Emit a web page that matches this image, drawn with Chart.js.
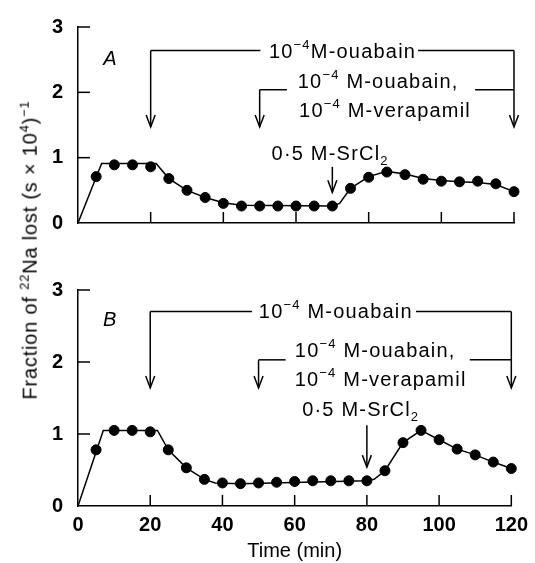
<!doctype html>
<html>

<head>
    <title>22Na efflux</title>
    <script src="https://cdn.jsdelivr.net/npm/chart.js@4.4.1/dist/chart.umd.min.js"></script>
    <style>
    body { margin: 0; background: #fff; }
    #wrap { position: relative; width: 535px; height: 563px; }
    canvas { position: absolute; left: 0; }
    #ytitle {
        position: absolute; left: 29px; top: 250px;
        transform: translate(-50%, -50%) rotate(-90deg);
        white-space: nowrap;
        font: 20px "Liberation Sans", Arial, sans-serif;
        letter-spacing: 0.8px;
        color: #000;
    }
    #ytitle sup { font-size: 13px; }
    </style>
</head>

<body>
    <div id="wrap">
        <canvas id="chartA" width="535" height="250" style="top:0"></canvas>
        <canvas id="chartB" width="535" height="313" style="top:250px"></canvas>
        <div id="ytitle">Fraction of <sup>22</sup>Na lost (s × 10<sup>4</sup>)<sup>−1</sup></div>
    </div>

    <script>
    // sample times (min) and measured points
    var sampleTimes = [5, 10, 15, 20, 25, 30, 35, 40, 45, 50, 55, 60, 65, 70, 75, 80, 85, 90, 95, 100, 105, 110, 115, 120];
    var panelAValues = [0.71, 0.89, 0.89, 0.86, 0.68, 0.50, 0.39, 0.30, 0.26, 0.26, 0.26, 0.26, 0.26, 0.26, 0.53, 0.70, 0.78, 0.74, 0.67, 0.64, 0.63, 0.64, 0.60, 0.48];
    var panelBValues = [0.78, 1.05, 1.05, 1.03, 0.78, 0.53, 0.37, 0.32, 0.31, 0.32, 0.33, 0.34, 0.35, 0.35, 0.35, 0.35, 0.49, 0.88, 1.05, 0.92, 0.79, 0.71, 0.61, 0.52];

    // drawn curves
    var curveATimes = [0, 6.5, 21.5, 25, 30, 35, 40, 45, 70, 72, 75, 80, 85, 90, 95, 100, 105, 110, 115, 120];
    var curveAValues = [0, 0.91, 0.91, 0.68, 0.50, 0.39, 0.31, 0.27, 0.26, 0.30, 0.53, 0.71, 0.79, 0.75, 0.68, 0.65, 0.63, 0.62, 0.59, 0.48];
    var curveBTimes = [0, 7, 22, 25, 30, 35, 38, 45, 80, 82, 85, 90, 95, 100, 105, 110, 115, 120];
    var curveBValues = [0, 1.05, 1.05, 0.78, 0.53, 0.37, 0.32, 0.31, 0.35, 0.37, 0.49, 0.88, 1.05, 0.92, 0.79, 0.71, 0.61, 0.52];

    var xTickValues = [0, 20, 40, 60, 80, 100, 120];
    var yTickValues = [0, 1, 2, 3];

    var FONT = '"Liberation Sans", Arial, sans-serif';
    Chart.defaults.font.family = FONT;
    Chart.defaults.color = '#000';

    // annotation layout, in axis units
    var notesA = {
        label: 'A', labelAt: [8.8, 2.51],
        bracket1: { y: 2.64, gap: [50.2, 93.6], tip: 1.47 },
        bracket2: { y: 2.04, gap: [57.5, 109.3], tip: 1.47 },
        srArrow: { t: 70, from: 0.86, to: 0.47 },
        texts: [
            { parts: [['10'], ['−4', 'sup'], ['M-ouabain']], at: [72.8, 2.63] },
            { parts: [['10'], ['−4', 'sup'], [' M-ouabain,']], at: [82.6, 2.18] },
            { parts: [['10'], ['−4', 'sup'], [' M-verapamil']], at: [84.5, 1.73] },
            { parts: [['0·5 M-SrCl'], ['2', 'sub']], at: [69.4, 1.07] }
        ]
    };
    var notesB = {
        label: 'B', labelAt: [8.8, 2.58],
        bracket1: { y: 2.70, gap: [48.2, 93.6], tip: 1.64 },
        bracket2: { y: 2.03, gap: [57.5, 108.5], tip: 1.64 },
        srArrow: { t: 80, from: 1.12, to: 0.54 },
        texts: [
            { parts: [['10'], ['−4', 'sup'], [' M-ouabain']], at: [71.4, 2.71] },
            { parts: [['10'], ['−4', 'sup'], [' M-ouabain,']], at: [82.3, 2.17] },
            { parts: [['10'], ['−4', 'sup'], [' M-verapamil']], at: [83.8, 1.76] },
            { parts: [['0·5 M-SrCl'], ['2', 'sub']], at: [78.3, 1.35] }
        ]
    };

    function toXY(xs, ys) {
        return xs.map(function(x, i) { return { x: x, y: ys[i] }; });
    }

    function partFont(p) {
        return (p[1] ? '13px ' : '20px ') + FONT;
    }

    function drawRich(ctx, parts, cx, cy) {
        ctx.letterSpacing = '1.2px';
        var w = 0;
        parts.forEach(function(p) { ctx.font = partFont(p); w += ctx.measureText(p[0]).width; });
        var x = cx - w / 2, base = cy + 7;
        ctx.textAlign = 'left';
        ctx.textBaseline = 'alphabetic';
        parts.forEach(function(p) {
            ctx.font = partFont(p);
            var dy = p[1] === 'sup' ? -9 : (p[1] === 'sub' ? 5 : 0);
            ctx.fillText(p[0], x, base + dy);
            x += ctx.measureText(p[0]).width;
        });
        ctx.letterSpacing = '0px';
    }

    function line(ctx, x1, y1, x2, y2) {
        ctx.beginPath(); ctx.moveTo(x1, y1); ctx.lineTo(x2, y2); ctx.stroke();
    }

    function arrowDown(ctx, x, y1, y2) {
        line(ctx, x, y1, x, y2);
        ctx.beginPath();
        ctx.moveTo(x - 4.5, y2 - 12); ctx.lineTo(x, y2); ctx.lineTo(x + 4.5, y2 - 12);
        ctx.stroke();
    }

    var notesPlugin = {
        id: 'notes',
        afterDraw: function(chart, args, n) {
            var ctx = chart.ctx, xs = chart.scales.x, ys = chart.scales.y;
            var px = function(t) { return xs.getPixelForValue(t); };
            var py = function(v) { return ys.getPixelForValue(v); };
            ctx.save();
            ctx.strokeStyle = '#000';
            ctx.fillStyle = '#000';
            ctx.lineWidth = 1.5;

            // inward tick marks
            xs.ticks.forEach(function(t) {
                if (t.value > 0) line(ctx, px(t.value), ys.bottom, px(t.value), ys.bottom - 11);
            });
            ys.ticks.forEach(function(t) {
                if (t.value > 0) line(ctx, xs.left, py(t.value), xs.left + 12, py(t.value));
            });

            // ouabain bracket
            var b1 = n.bracket1, b2 = n.bracket2;
            line(ctx, px(20), py(b1.y), px(b1.gap[0]), py(b1.y));
            line(ctx, px(b1.gap[1]), py(b1.y), px(120), py(b1.y));
            arrowDown(ctx, px(20), py(b1.y), py(b1.tip));
            arrowDown(ctx, px(120), py(b1.y), py(b1.tip));
            // ouabain + verapamil bracket
            line(ctx, px(50), py(b2.y), px(b2.gap[0]), py(b2.y));
            line(ctx, px(b2.gap[1]), py(b2.y), px(120), py(b2.y));
            arrowDown(ctx, px(50), py(b2.y), py(b2.tip));
            // SrCl2
            arrowDown(ctx, px(n.srArrow.t), py(n.srArrow.from), py(n.srArrow.to));

            n.texts.forEach(function(tx) {
                drawRich(ctx, tx.parts, px(tx.at[0]), py(tx.at[1]));
            });

            ctx.font = 'italic 20px ' + FONT;
            ctx.textAlign = 'center';
            ctx.textBaseline = 'middle';
            ctx.fillText(n.label, px(n.labelAt[0]), py(n.labelAt[1]));
            ctx.restore();
        }
    };

    function makeConfig(points, curve, notes, showX, topPad, xHeight) {
        return {
            type: 'scatter',
            data: {
                datasets: [{
                    data: curve,
                    showLine: true,
                    borderColor: '#000',
                    borderWidth: 1.5,
                    pointRadius: 0,
                    clip: false
                }, {
                    data: points,
                    showLine: false,
                    backgroundColor: '#000',
                    borderColor: '#000',
                    pointRadius: 5,
                    clip: false
                }]
            },
            options: {
                responsive: false,
                animation: false,
                events: [],
                layout: { padding: { top: topPad, right: 21, left: 0, bottom: 0 } },
                plugins: {
                    legend: { display: false },
                    tooltip: { enabled: false },
                    notes: notes
                },
                scales: {
                    x: {
                        type: 'linear', min: 0, max: 120,
                        afterBuildTicks: function(s) { s.ticks = xTickValues.map(function(v) { return { value: v }; }); },
                        grid: { display: false, drawTicks: false },
                        border: { display: true, color: '#000', width: 1.5 },
                        ticks: { display: showX, color: '#000', font: { size: 20, weight: 'bold' }, padding: 7, maxRotation: 0, autoSkip: false },
                        title: { display: showX, text: 'Time (min)', color: '#000', font: { size: 20 }, padding: 0 },
                        afterFit: function(s) { s.height = xHeight; }
                    },
                    y: {
                        min: 0, max: 3,
                        afterBuildTicks: function(s) { s.ticks = yTickValues.map(function(v) { return { value: v }; }); },
                        grid: { display: false, drawTicks: false },
                        border: { display: true, color: '#000', width: 1.5 },
                        ticks: { color: '#000', font: { size: 20, weight: 'bold' }, padding: 15 },
                        afterFit: function(s) { s.width = 78; }
                    }
                }
            },
            plugins: [notesPlugin]
        };
    }

    window.onload = function() {
        new Chart(document.getElementById('chartA'),
            makeConfig(toXY(sampleTimes, panelAValues), toXY(curveATimes, curveAValues), notesA, false, 19, 12));
        new Chart(document.getElementById('chartB'),
            makeConfig(toXY(sampleTimes, panelBValues), toXY(curveBTimes, curveBValues), notesB, true, 40, 57));
    };
    </script>
</body>

</html>
